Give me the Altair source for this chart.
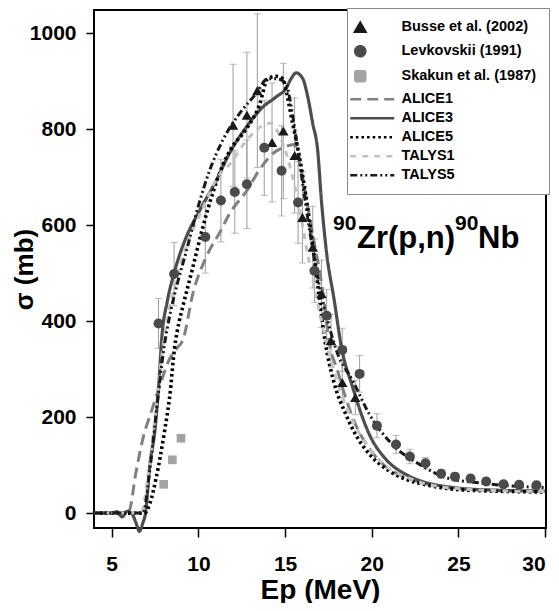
import altair as alt
import pandas as pd

FONT = "Liberation Sans"

# ---------------- data ----------------
series_order = ["Busse et al. (2002)", "Levkovskii (1991)", "Skakun et al. (1987)",
                "ALICE1", "ALICE3", "ALICE5", "TALYS1", "TALYS5"]

busse_e = [12.0, 12.8, 13.4, 14.25, 14.9, 15.55, 16.0, 16.6, 17.1, 17.65, 18.3, 19.05]
busse_s = [808, 829, 880, 772, 796, 745, 616, 554, 457, 359, 272, 241]
busse_err = [127, 131, 160, 124, 141, 120, 95, 85, 70, 55, 42, 36]

levk_e = [7.7, 8.6, 10.4, 11.3, 12.1, 12.8, 13.8, 14.8, 15.75, 16.7, 17.4, 18.3, 19.3,
          20.3, 21.4, 22.2, 23.1, 24.0, 24.8, 25.7, 26.6, 27.6, 28.5, 29.5]
levk_s = [395, 498, 575, 651, 669, 685, 761, 713, 647, 505, 411, 340, 290,
          182, 143, 118, 104, 82, 76, 72, 66, 60, 59, 58]
levk_err = [52, 66, 75, 86, 86, 92, 99, 94, 85, 66, 55, 45, 38,
            25, 19, 15, 12, 9, 8, 8, 7, 7, 7, 7]

skakun_e = [8.0, 8.5, 9.0]
skakun_s = [60, 111, 156]

alice1_e = [4.0, 5.0, 5.6, 6.0, 6.4, 6.8, 7.3, 7.8, 8.3, 8.8, 9.1, 9.7, 10.45, 11.3, 11.8,
            12.8, 13.5, 14.3, 15.0, 15.5, 15.9, 16.3, 16.7, 17.1, 17.6, 18.0, 18.5, 19.0,
            19.9, 20.8, 22.0, 23.0, 24.0, 25.0, 27.0, 30.0]
alice1_s = [0, 0, 0, 5, 85, 155, 213, 268, 318, 345, 360, 460, 533, 589, 624,
            672, 714, 749, 763, 768, 720, 640, 560, 480, 345, 300, 240, 190,
            133, 97, 74, 62, 55, 51, 47, 45]

alice3_e = [4.0, 5.0, 5.3, 5.6, 5.9, 6.2, 6.4, 6.6, 6.8, 6.95, 7.2, 7.5, 7.7, 7.9, 8.2, 8.6,
            9.3, 10.07, 11.03, 11.8, 12.76, 13.72, 14.49, 15.06, 15.35, 15.64, 16.02, 16.31,
            16.6, 16.88, 17.1, 17.37, 17.85, 18.23, 18.9, 19.86, 20.82, 22.0, 23.0, 24.0,
            25.0, 27.0, 30.0]
alice3_s = [0, 0, 3, -8, 4, -3, -20, -38, -20, 0, 100, 175, 260, 370, 440, 500,
            575, 630, 693, 750, 804, 846, 867, 885, 905, 917, 905, 867,
            811, 756, 650, 550, 440, 350, 262, 164, 112, 80, 65, 57,
            52, 48, 46]

alice5_e = [4.0, 6.9, 7.2, 7.57, 8.05, 8.34, 8.63, 8.9, 9.1, 9.68, 10.26, 10.84, 11.41, 11.9,
            12.76, 13.52, 14.0, 14.5, 14.87, 15.06, 15.44, 15.83, 16.4, 16.8, 17.3, 17.8,
            18.5, 19.0, 19.86, 21.0, 22.0, 23.0, 24.0, 25.0, 27.0, 30.0]
alice5_s = [0, 0, 20, 74, 171, 241, 345, 400, 430, 512, 596, 668, 725, 760,
            800, 850, 905, 910, 905, 880, 811, 742, 610, 500, 360, 275,
            206, 168, 123, 88, 70, 60, 53, 49, 46, 44]

talys1_e = [4.0, 6.7, 7.1, 7.5, 7.9, 8.3, 8.8, 9.3, 10.0, 10.45, 11.03, 12.0, 12.56, 13.33,
            13.9, 14.2, 14.49, 14.87, 15.3, 15.8, 16.3, 16.8, 17.45, 18.0, 18.5, 19.0,
            19.86, 20.8, 22.0, 23.0, 24.0, 25.0, 27.0, 30.0]
talys1_s = [0, 0, 80, 200, 330, 420, 495, 555, 615, 651, 695, 735, 766, 797,
            811, 812, 800, 770, 720, 640, 540, 450, 345, 275, 225, 185,
            135, 98, 75, 62, 55, 51, 47, 45]

talys5_e = [4.0, 6.8, 7.2, 7.6, 8.0, 8.4, 8.8, 9.3, 10.0, 10.65, 11.41, 12.37, 13.33, 14.0,
            14.5, 15.06, 15.25, 15.6, 16.0, 16.5, 17.0, 17.5, 18.0, 18.9, 19.86, 21.4,
            22.74, 24.28, 26.2, 30.0]
talys5_s = [0, 0, 90, 220, 340, 420, 480, 545, 640, 714, 777, 832, 874, 905,
            905, 895, 867, 790, 690, 570, 470, 395, 335, 276, 206, 136,
            102, 74, 63, 53]

title_parts = ["90", "Zr(p,n)", "90", "Nb"]
x_ticks = [5, 10, 15, 20, 25, 30]
y_ticks = [0, 200, 400, 600, 800, 1000]

# ---------------- styles ----------------
color_range = ["#1a1a1a", "#4a4a4a", "#a3a3a3", "#808080", "#4d4d4d", "#000000", "#c2c2c2", "#1a1a1a"]
LPATH = "M-2,0H6.8"
shape_range = ["triangle-up", "circle", "square", LPATH, LPATH, LPATH, LPATH, LPATH]
dash_range = [[1, 0], [1, 0], [1, 0], [11, 6], [1, 0], [2.6, 3], [6, 6], [7, 3, 2, 3, 2, 3]]
line_widths = {"ALICE1": 3, "ALICE3": 3.2, "ALICE5": 3.6, "TALYS1": 3, "TALYS5": 3}
point_sizes = {series_order[0]: 110, series_order[1]: 100, series_order[2]: 75}

# ---------------- tables ----------------
pts = {
    series_order[0]: pd.DataFrame({"E": busse_e, "s": busse_s, "series": series_order[0]}),
    series_order[1]: pd.DataFrame({"E": levk_e, "s": levk_s, "series": series_order[1]}),
    series_order[2]: pd.DataFrame({"E": skakun_e, "s": skakun_s, "series": series_order[2]}),
}

err = pd.concat([
    pd.DataFrame({"E": busse_e, "lo": [a - b for a, b in zip(busse_s, busse_err)],
                  "hi": [a + b for a, b in zip(busse_s, busse_err)]}),
    pd.DataFrame({"E": levk_e, "lo": [a - b for a, b in zip(levk_s, levk_err)],
                  "hi": [a + b for a, b in zip(levk_s, levk_err)]}),
], ignore_index=True)

lines = {
    "ALICE1": pd.DataFrame({"E": alice1_e, "s": alice1_s, "series": "ALICE1"}),
    "ALICE3": pd.DataFrame({"E": alice3_e, "s": alice3_s, "series": "ALICE3"}),
    "ALICE5": pd.DataFrame({"E": alice5_e, "s": alice5_s, "series": "ALICE5"}),
    "TALYS1": pd.DataFrame({"E": talys1_e, "s": talys1_s, "series": "TALYS1"}),
    "TALYS5": pd.DataFrame({"E": talys5_e, "s": talys5_s, "series": "TALYS5"}),
}

# ---------------- encodings ----------------
xscale = alt.Scale(domain=[3.98, 30.05], nice=False, zero=False)
yscale = alt.Scale(domain=[-31, 1048], nice=False, zero=False)
xax = alt.Axis(values=x_ticks, title="Ep (MeV)", titleFontSize=28, labelPadding=16,
               titlePadding=2, tickSize=9)
yax = alt.Axis(values=y_ticks, title="σ (mb)", titleFontSize=26, labelPadding=10,
               format="d", titleX=-57)

legend_kw = dict(
    title=None, orient="none", legendX=253, legendY=-2, padding=12, rowPadding=4,
    labelFont=FONT, labelFontSize=14.5, labelFontWeight="bold", labelColor="black",
    labelOffset=34, symbolSize=100, symbolStrokeWidth=2.6, symbolOffset=-6,
    fillColor="white", strokeColor="#8a8a8a", labelLimit=400,
)

color_enc = alt.Color("series:N", scale=alt.Scale(domain=series_order, range=color_range),
                      legend=alt.Legend(**legend_kw))
dash_enc = alt.StrokeDash("series:N", scale=alt.Scale(domain=series_order, range=dash_range),
                          legend=alt.Legend(**legend_kw))
shape_enc = alt.Shape("series:N", scale=alt.Scale(domain=series_order, range=shape_range),
                      legend=alt.Legend(**legend_kw))

bars = alt.Chart(err).mark_rule(color="#9c9c9c", strokeWidth=1).encode(
    x=alt.X("E:Q", scale=xscale, axis=xax), y=alt.Y("lo:Q", scale=yscale, axis=yax), y2="hi:Q")
cap_lo = alt.Chart(err).mark_tick(color="#9c9c9c", thickness=1, size=7, orient="horizontal").encode(
    x="E:Q", y="lo:Q")
cap_hi = alt.Chart(err).mark_tick(color="#9c9c9c", thickness=1, size=7, orient="horizontal").encode(
    x="E:Q", y="hi:Q")

line_layers = [
    alt.Chart(df).mark_line(interpolate="monotone", strokeJoin="round",
                            strokeWidth=line_widths[name]).encode(
        x="E:Q", y="s:Q", color=color_enc, strokeDash=dash_enc, order="E:Q")
    for name, df in lines.items()
]

point_layers = [
    alt.Chart(df).mark_point(filled=True, opacity=1, size=point_sizes[name]).encode(
        x="E:Q", y="s:Q", color=color_enc, shape=shape_enc)
    for name, df in pts.items()
]

def label(txt, px, py, fs):
    return alt.Chart(pd.DataFrame({"t": [txt]})).mark_text(
        align="left", baseline="alphabetic", font=FONT, fontSize=fs, fontWeight="bold", color="black"
    ).encode(x=alt.value(px), y=alt.value(py), text="t:N")

ann = [label(title_parts[0], 239, 220, 21), label(title_parts[1], 263, 238, 31),
       label(title_parts[2], 361, 220, 21), label(title_parts[3], 384, 238, 31)]

chart = alt.layer(bars, cap_lo, cap_hi, *line_layers, *point_layers, *ann).properties(
    width=452, height=518,
    autosize=alt.AutoSizeParams(type="none"),
    padding={"left": 86, "top": 2, "right": 5, "bottom": 75},
).configure_view(
    stroke="black", strokeWidth=2
).configure_axis(
    domain=False, grid=False, tickColor="black", tickWidth=1.5, tickSize=8,
    labelFont=FONT, labelFontSize=21, labelFontWeight="bold", labelColor="black",
    titleFont=FONT, titleFontWeight="bold", titleColor="black",
)

chart.save("out.html", embed_options={"renderer": "svg", "actions": False})
